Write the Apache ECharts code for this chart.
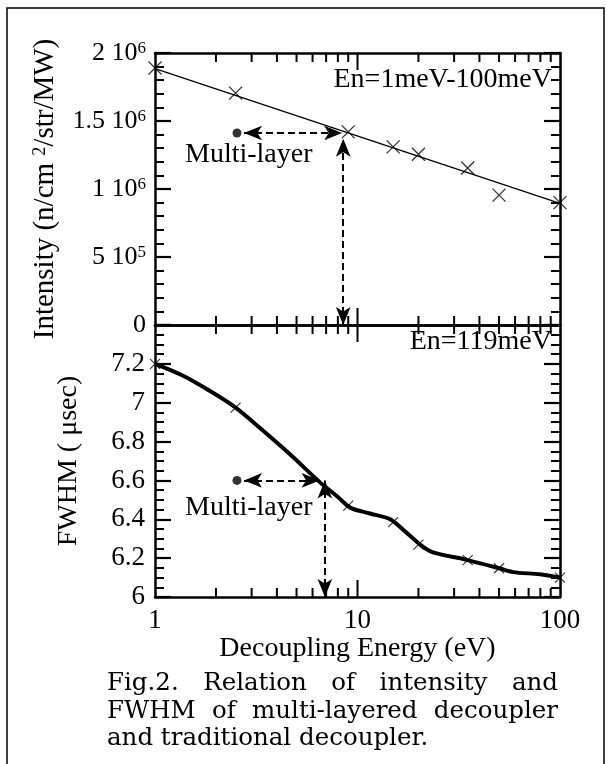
<!DOCTYPE html>
<html><head><meta charset="utf-8">
<script src="https://cdn.jsdelivr.net/npm/echarts@6/dist/echarts.min.js"></script>
<style>html,body{margin:0;padding:0;background:#fff}#c{width:607px;height:764px}</style>
</head><body><div id="c"></div>
<script>
// ---------- data ----------
const energyPoints = [1, 2.5, 9, 15, 20, 35, 50, 100];
const intensityValues = [1.89e6, 1.705e6, 1.42e6, 1.31e6, 1.255e6, 1.155e6, 0.955e6, 0.9e6];
const intensityFitX = [1, 100];
const intensityFitY = [1.885e6, 0.895e6];
const fwhmValues = [7.2, 6.975, 6.47, 6.385, 6.27, 6.19, 6.148, 6.10];
const fwhmCurveX = [1, 1.37, 1.87, 2.5, 3.3, 4.64, 6.53, 7.9, 9.2, 11.5, 14.5, 17.5, 20.6, 23.6, 35, 50, 58.6, 79.6, 100];
const fwhmCurveY = [7.2, 7.14, 7.06, 6.975, 6.87, 6.735, 6.59, 6.52, 6.46, 6.43, 6.40, 6.33, 6.266, 6.23, 6.19, 6.148, 6.128, 6.117, 6.10];

const intensityDot = [2.54, 1.412e6];
const intensityArrowH = [[2.75, 1.412e6], [8.4, 1.412e6]];
const intensityArrowV = [[8.5, 0], [8.5, 1.37e6]];
const fwhmDot = [2.54, 6.6];
const fwhmArrowH = [[2.75, 6.6], [6.5, 6.6]];
const fwhmArrowV = [[6.9, 6.0], [6.9, 6.6]];

const xMinorTicks = [2, 3, 4, 5, 6, 7, 8, 9, 20, 30, 40, 50, 60, 70, 80, 90];
const xMajorTicks = [10];
const intensityTicks = [0, 5e5, 1e6, 1.5e6, 2e6];
const intensityTickMantissa = ['0', '5', '1', '1.5', '2'];
const intensityTickExponent = ['', '5', '6', '6', '6'];

const captionLines = [
  'Fig.2. Relation of intensity and',
  'FWHM of multi-layered decoupler',
  'and traditional decoupler.'
];

// ---------- style ----------
const FONT = 'Liberation Serif, Times New Roman, serif';
const CAPFONT = 'DejaVu Serif, serif';
const BLACK = '#000';
const crossPath = 'path://M0,0L10,10M10,0L0,10';

const zip = (a, b) => a.map((v, i) => [v, b[i]]);

function xAxisDef(grid, pos, withLabels) {
  const ax = {
    gridIndex: grid, type: 'log', logBase: 10, min: 1, max: 100, position: pos,
    axisLine: { show: true, onZero: false, lineStyle: { color: BLACK, width: 2.5 } },
    axisTick: { show: false }, splitLine: { show: false },
    axisLabel: { show: withLabels, color: BLACK, fontFamily: FONT, fontSize: 27, margin: 10 }
  };
  if (withLabels) {
    ax.name = 'Decoupling Energy (eV)';
    ax.nameLocation = 'middle';
    ax.nameGap = 27;
    ax.nameTextStyle = { color: BLACK, fontFamily: FONT, fontSize: 28 };
  }
  return ax;
}

function yAxisDef(grid, pos, min, max, interval, minorSplit, labels) {
  const ax = {
    gridIndex: grid, type: 'value', min, max, interval, position: pos,
    axisLine: { show: true, onZero: false, lineStyle: { color: BLACK, width: 2.5 } },
    axisTick: { show: true, inside: true, length: 16, lineStyle: { color: BLACK, width: 2.2 } },
    minorTick: { show: true, splitNumber: minorSplit, length: 9, lineStyle: { color: BLACK, width: 2 } },
    splitLine: { show: false }, minorSplitLine: { show: false },
    axisLabel: { show: false }
  };
  if (labels) Object.assign(ax, labels);
  return ax;
}

function tickSeries(xi, yi, yMin, yMax) {
  const data = xMinorTicks.map(v => [v, 0, yMin]).concat(xMajorTicks.map(v => [v, 1, yMin]));
  return {
    type: 'custom', xAxisIndex: xi, yAxisIndex: yi, silent: true, clip: false, z: 5,
    encode: { x: 0, y: 2 },
    data,
    renderItem: (params, api) => {
      const v = api.value(0);
      const len = api.value(1) === 1 ? 17 : 9;
      const b = api.coord([v, yMin]);
      const t = api.coord([v, yMax]);
      const st = { stroke: BLACK, lineWidth: 2 };
      return { type: 'group', children: [
        { type: 'line', shape: { x1: b[0], y1: b[1], x2: b[0], y2: b[1] - len }, style: st },
        { type: 'line', shape: { x1: t[0], y1: t[1], x2: t[0], y2: t[1] + len }, style: st }
      ] };
    }
  };
}

function arrowMarkLine(h, v) {
  return {
    silent: true, animation: false,
    symbol: ['arrow', 'arrow'], symbolSize: [11, 18],
    lineStyle: { type: [7, 4], color: BLACK, width: 2 },
    itemStyle: { color: BLACK },
    label: { show: false },
    emphasis: { disabled: true },
    data: [
      [{ coord: h[0] }, { coord: h[1] }],
      [{ coord: v[0] }, { coord: v[1] }]
    ]
  };
}

function textEl(x, y, text, size, family, align) {
  return {
    type: 'text', x: x, y: y, z: 100,
    style: { text: text, fill: BLACK, fontSize: size, fontFamily: family, align: align || 'left', verticalAlign: 'middle' }
  };
}

// caption words, justified
const measureCtx = document.createElement('canvas').getContext('2d');
const capSize = 24.5;
measureCtx.font = capSize + 'px DejaVu Serif';
const capLeft = 107, capRight = 558;
const capY = [684, 712, 739];
const captionGraphics = [];
captionLines.forEach((line, li) => {
  const words = line.split(' ');
  const widths = words.map(w => measureCtx.measureText(w).width);
  const total = widths.reduce((a, b) => a + b, 0);
  const justify = li < captionLines.length - 1;
  const gap = justify ? (capRight - capLeft - total) / (words.length - 1) : measureCtx.measureText(' ').width;
  let x = capLeft;
  words.forEach((w, i) => {
    captionGraphics.push(textEl(x, capY[li], w, capSize, CAPFONT, 'left'));
    x += widths[i] + gap;
  });
});

const chart = echarts.init(document.getElementById('c'), null, { renderer: 'canvas' });
const option = {
  animation: false,
  backgroundColor: '#fff',
  textStyle: { fontFamily: FONT },
  grid: [
    { left: 155, right: 47, top: 53, height: 272 },
    { left: 155, right: 47, top: 325, height: 272 }
  ],
  xAxis: [
    xAxisDef(0, 'bottom', false),
    xAxisDef(1, 'bottom', true),
    xAxisDef(0, 'top', false),
    xAxisDef(1, 'top', false)
  ],
  yAxis: [
    yAxisDef(0, 'left', 0, 2e6, 5e5, 5, {
      axisLabel: {
        show: true, margin: 9, color: BLACK, fontFamily: FONT,
        formatter: (v) => {
          const i = intensityTicks.indexOf(v);
          if (i < 0) return '';
          if (!intensityTickExponent[i]) return '{a|' + intensityTickMantissa[i] + '}';
          return '{a|' + intensityTickMantissa[i] + ' 10}{s|' + intensityTickExponent[i] + '}';
        },
        rich: {
          a: { fontFamily: FONT, fontSize: 26, color: BLACK },
          s: { fontFamily: FONT, fontSize: 17, color: BLACK, verticalAlign: 'top' }
        }
      },
      name: '{a|Intensity (n/cm }{s|2}{a|/str/MW)}',
      nameLocation: 'middle', nameRotate: 90, nameGap: 95,
      nameTextStyle: {
        color: BLACK, fontFamily: FONT,
        rich: {
          a: { fontFamily: FONT, fontSize: 29, color: BLACK },
          s: { fontFamily: FONT, fontSize: 18, color: BLACK, verticalAlign: 'top' }
        }
      }
    }),
    yAxisDef(0, 'right', 0, 2e6, 5e5, 5, null),
    yAxisDef(1, 'left', 6, 7.4, 0.2, 4, {
      axisLabel: { show: true, showMaxLabel: false, margin: 10, color: BLACK, fontFamily: FONT, fontSize: 27 },
      name: 'FWHM ( \u03bcsec)',
      nameLocation: 'middle', nameRotate: 90, nameGap: 72,
      nameTextStyle: { color: BLACK, fontFamily: FONT, fontSize: 28 }
    }),
    yAxisDef(1, 'right', 6, 7.4, 0.2, 4, null)
  ],
  graphic: [
    { type: 'rect', shape: { x: 7, y: 8, width: 597, height: 800 }, style: { fill: 'none', stroke: BLACK, lineWidth: 1.5 }, z: 100 },
    textEl(552, 80, 'En=1meV-100meV', 28, FONT, 'right'),
    textEl(552, 342, 'En=119meV', 28, FONT, 'right'),
    textEl(185, 155, 'Multi-layer', 28, FONT, 'left'),
    textEl(185, 508, 'Multi-layer', 28, FONT, 'left')
  ].concat(captionGraphics),
  series: [
    {
      type: 'line', xAxisIndex: 0, yAxisIndex: 0, data: zip(intensityFitX, intensityFitY),
      symbol: 'none', lineStyle: { color: BLACK, width: 1.3 }, silent: true,
      markLine: arrowMarkLine(intensityArrowH, intensityArrowV)
    },
    {
      type: 'scatter', xAxisIndex: 0, yAxisIndex: 0, data: zip(energyPoints, intensityValues),
      symbol: crossPath, symbolSize: 13, clip: false, silent: true,
      itemStyle: { color: 'none', borderColor: BLACK, borderWidth: 1.3 }
    },
    {
      type: 'scatter', xAxisIndex: 0, yAxisIndex: 0, data: [intensityDot],
      symbol: 'circle', symbolSize: 9, silent: true, itemStyle: { color: BLACK }
    },
    {
      type: 'line', xAxisIndex: 1, yAxisIndex: 2, data: zip(fwhmCurveX, fwhmCurveY),
      symbol: 'none', smooth: 0.3, lineStyle: { color: BLACK, width: 4 }, silent: true,
      markLine: arrowMarkLine(fwhmArrowH, fwhmArrowV)
    },
    {
      type: 'scatter', xAxisIndex: 1, yAxisIndex: 2, data: zip(energyPoints, fwhmValues),
      symbol: crossPath, symbolSize: 10, clip: false, silent: true,
      itemStyle: { color: 'none', borderColor: BLACK, borderWidth: 1.1 }
    },
    {
      type: 'scatter', xAxisIndex: 1, yAxisIndex: 2, data: [fwhmDot],
      symbol: 'circle', symbolSize: 9, silent: true, itemStyle: { color: BLACK }
    },
    tickSeries(0, 0, 0, 2e6),
    tickSeries(1, 2, 6, 7.4)
  ]
};
chart.setOption(option);
</script>
</body></html>
